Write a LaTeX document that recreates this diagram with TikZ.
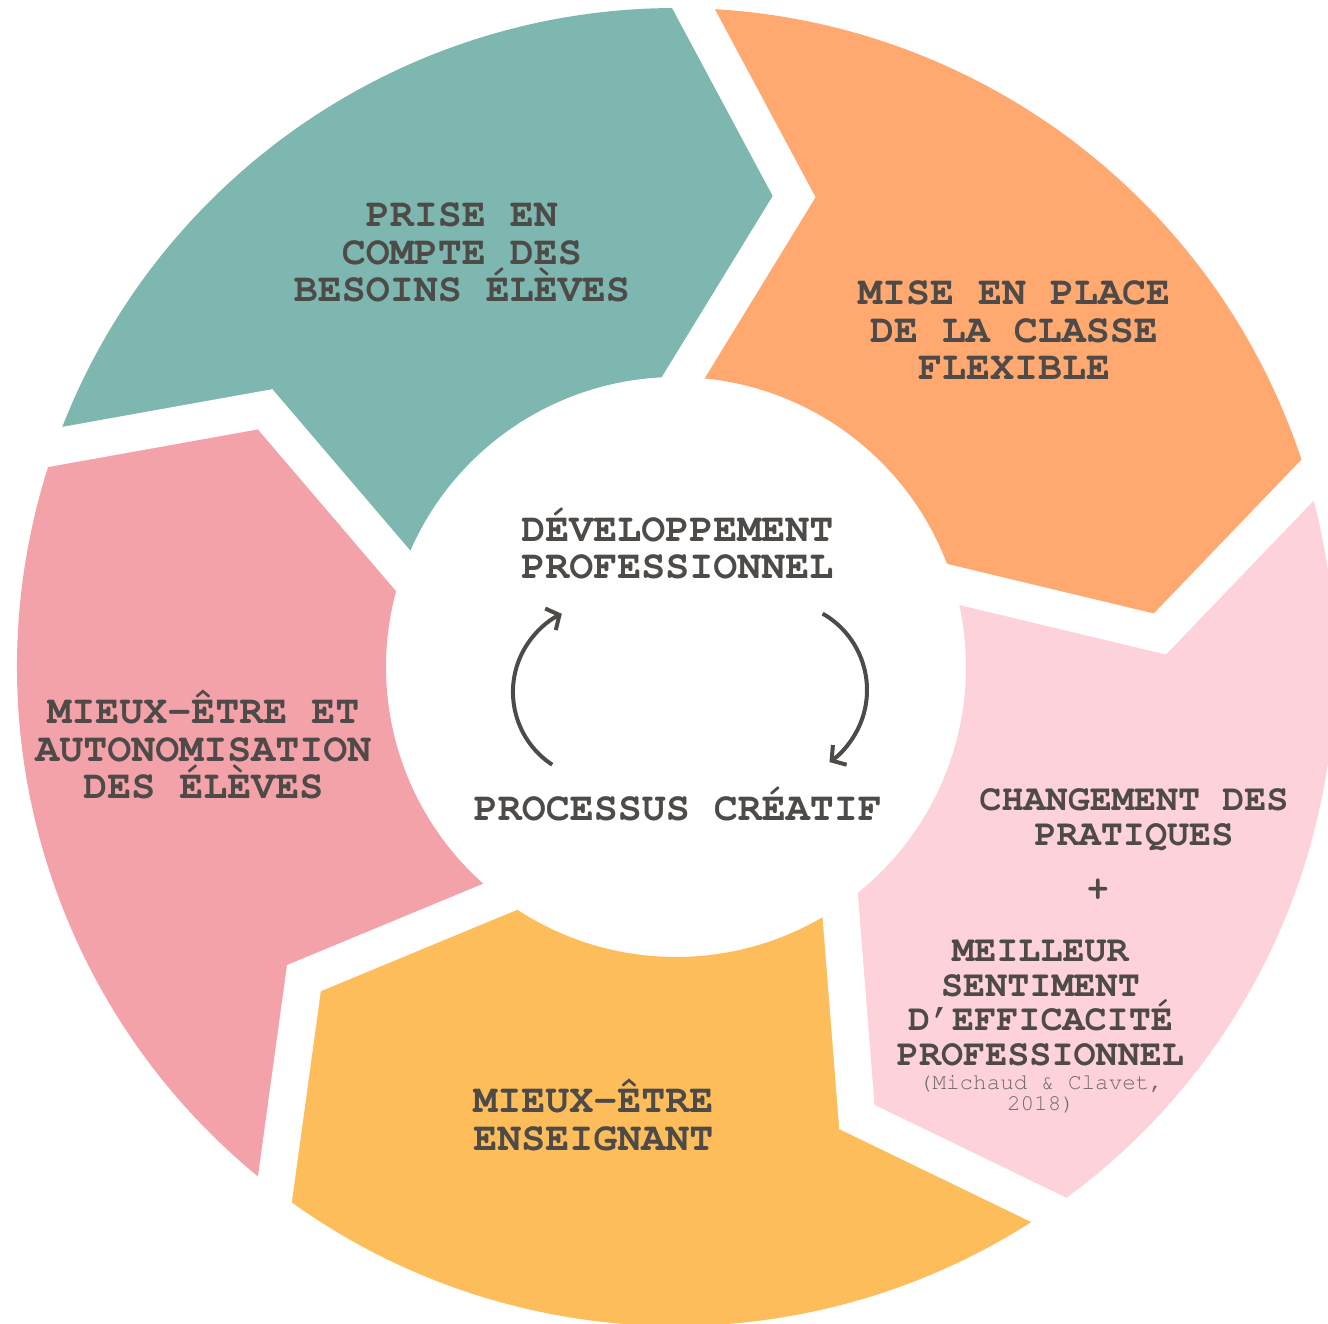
\documentclass[tikz,border=0pt]{standalone}
\usepackage[T1]{fontenc}
\renewcommand{\ttdefault}{pcr}
\usetikzlibrary{arrows.meta, calc}
\definecolor{ink}{HTML}{4D4A48}
\definecolor{citegray}{HTML}{6E6A69}
\definecolor{tealseg}{HTML}{7DB7B0}
\definecolor{orangeseg}{HTML}{FFA970}
\definecolor{blushseg}{HTML}{FDD2DB}
\definecolor{yellowseg}{HTML}{FDBD5A}
\definecolor{pinkseg}{HTML}{F4A2AA}
\newcommand{\Rout}{659}
\newcommand{\Rin}{290}
\newcommand{\Rtip}{485}
% one ring piece: #1 = start angle, #2 = colour
\newcommand{\cycleseg}[2]{%
  \fill[#2] (#1:\Rout) arc[start angle=#1, end angle=#1-72, radius=\Rout]
    -- (#1-84.6:\Rtip) -- (#1-72:\Rin)
    arc[start angle=#1-72, end angle=#1, radius=\Rin]
    -- (#1-12.6:\Rtip) -- cycle;}
% white chevron gap between two pieces
\newcommand{\cyclecut}[1]{%
  \draw[gapline] ($(#1-12.6:\Rtip)!1.25!(#1:\Rout)$) -- (#1-12.6:\Rtip)
    -- ($(#1-12.6:\Rtip)!1.3!(#1:\Rin)$);}
\tikzstyle{gapline}=[white, line width=18.5pt, line join=miter]
\tikzstyle{segtext}=[font=\ttfamily\bfseries\fontsize{20}{18.75}\selectfont,
                     text=ink, align=center, anchor=base, inner sep=0pt]
\tikzstyle{smalltext}=[segtext, font=\ttfamily\bfseries\fontsize{18.4}{17.2}\selectfont]
\tikzstyle{citetext}=[segtext, font=\ttfamily\fontsize{11.3}{10.25}\selectfont, text=citegray]
\tikzstyle{turnarrow}=[ink, line width=2pt, -{Straight Barb[length=5pt,width=12pt]}]

\begin{document}
\begin{tikzpicture}[x=0.5pt, y=0.5pt]
  \useasboundingbox (-676,-656) rectangle (652,667);
  % ring
  \cycleseg{160.5}{tealseg}
  \cycleseg{88.5}{orangeseg}
  \cycleseg{16.5}{blushseg}
  \cycleseg{-55.5}{yellowseg}
  \cycleseg{-127.5}{pinkseg}
  \cyclecut{160.5}
  \cyclecut{88.5}
  \cyclecut{16.5}
  \cyclecut{-55.5}
  \cyclecut{-127.5}
  % texts (anchored on the last line)
  \node[segtext] (besoins) at (-214,365) {PRISE EN\\COMPTE DES\\BESOINS \'EL\`EVES};
  \node[segtext] (classe) at (338,287) {MISE EN PLACE\\DE LA CLASSE\\FLEXIBLE};
  \node[smalltext] (pratiques) at (458,-178) {CHANGEMENT DES\\PRATIQUES};
  \node[smalltext, anchor=center] (plus) at (422,-223) {+};
  \node[smalltext] (sentiment) at (364.5,-398) {MEILLEUR\\SENTIMENT\\D'EFFICACIT\'E\\PROFESSIONNEL};
  \node[citetext] (source) at (365,-443) {(Michaud \& Clavet,\\2018)};
  \node[segtext] (enseignant) at (-82.5,-483) {MIEUX-\^ETRE\\ENSEIGNANT};
  \node[segtext] (eleves) at (-472.5,-131.5) {MIEUX-\^ETRE ET\\AUTONOMISATION\\DES \'EL\`EVES};
  \node[segtext] (devpro) at (1.5,88.5) {D\'EVELOPPEMENT\\PROFESSIONNEL};
  \node[segtext] (creatif) at (2,-153) {PROCESSUS CR\'EATIF};
  % the small cycle in the middle
  \coordinate (upstart) at (-123.8,-97.7);
  \coordinate (downstart) at (146.6,53.4);
  \draw[turnarrow] (upstart) arc[start angle=236.7, end angle=116, radius=87];
  \draw[turnarrow] (downstart) arc[start angle=60.3, end angle=-55, radius=88];
\end{tikzpicture}
\end{document}
